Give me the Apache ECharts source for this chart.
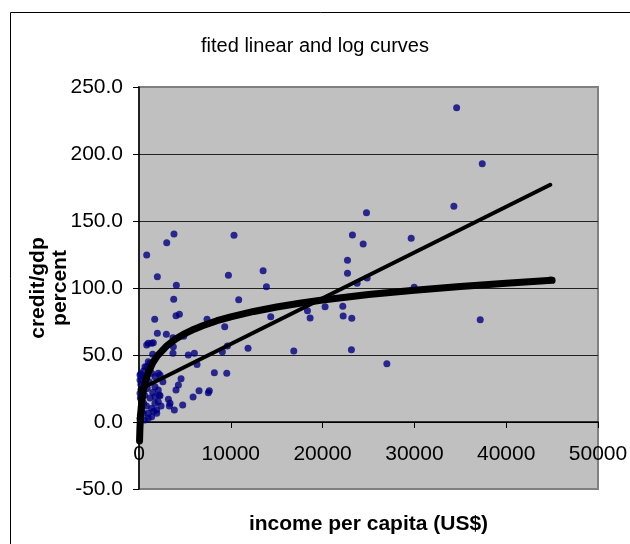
<!DOCTYPE html>
<html>
<head>
<meta charset="utf-8">
<script src="https://cdn.jsdelivr.net/npm/echarts@6/dist/echarts.min.js"></script>
<style>
html,body{margin:0;padding:0;background:#fff;}
#chart{width:630px;height:544px;}
</style>
</head>
<body>
<div id="chart"></div>
<script>
// Observed data: [income per capita (US$), credit/gdp percent]
var points = [
  [840,124.6],[3020,133.8],[3810,140.3],[10350,139.3],[2000,108.4],[4070,102],[9740,109.5],
  [13520,112.9],[13880,101],[3780,91.6],[10860,91.3],[4030,79.3],[4400,80.4],[1710,76.6],
  [7410,76.6],[9340,71.1],[14350,78.6],[18350,83.1],[18640,77.6],[20270,86],[2000,66.2],
  [2980,65.4],[3700,62.9],[4870,64],[1010,58.7],[1560,59.2],[1490,50.5],[3700,51.3],
  [5370,50],[6030,51.3],[6320,43],[9080,52.5],[9630,56.7],[11880,55],[16860,53],
  [8210,36.8],[9560,36.3],[4580,32.3],[4290,27.6],[4030,23.9],[6540,23.4],[7660,23.4],
  [7550,21.9],[5890,18.7],[4760,12.7],[3850,9],[3200,16.9],[3310,11.9],[2290,35],[2210,20.1],
  [34600,234.6],[37390,192.8],[34300,161],[24780,156.2],[23250,139.6],[24420,132.8],
  [29650,137.1],[22710,120.7],[22710,111],[23760,103.5],[24850,107.5],[29975,100.5],
  [22200,86.3],[22240,79.1],[23180,77.4],[23140,54],[27000,43.5],[37170,76.3],[44800,106],
  [1010,45],[1200,43.8],[840,41.3],[110,35],[290,33.8],[110,31.3],[470,30],[1380,36.3],
  [1740,33.8],[2100,36.3],[1740,26.3],[2100,23.9],[290,23.9],[110,21.4],[290,17.7],
  [3380,14],[1740,14],[2100,15.2],[1380,10.2],[1930,9],[1010,6.5],[290,11.4],[470,6.5],
  [110,2.8],[650,1.5],[1010,2.8],[1380,4],[1930,6.5],[840,57.5],[1380,58.7],[650,41.3],
  [190,36],[200,28],[400,26],[150,18],[500,14],[300,8],[150,5],[600,20],[800,12],[900,25],
  [1200,18],[1500,22],[1600,8],[2400,12],[2600,30],[1100,30],[700,33],[500,38],
  [1740,18.9],[2290,19.6],[3740,56.2]
];
// Fitted log trend line
var logCurve = [
  [60,-14.1],[100,-4.9],[150,2.5],[200,7.7],[300,15.0],[400,20.2],[500,24.3],[700,30.4],
  [1000,36.8],[1500,44.2],[2000,49.4],[3000,56.7],[4000,61.9],[5000,66.0],[6000,69.3],
  [7000,72.0],[8500,75.6],[10000,78.5],[12500,82.5],[15000,85.8],[17500,88.6],[20000,91.1],
  [25000,95.1],[30000,98.4],[35000,101.2],[40000,103.6],[45000,105.7]
];
// Fitted linear trend line
var linearLine = [[60,24.2],[44800,177]];
var yTicks = [-50, 0, 50, 100, 150, 200, 250];
var xTicks = [0, 10000, 20000, 30000, 40000, 50000];

var chart = echarts.init(document.getElementById('chart'), null, {renderer:'canvas'});
var font = 'Liberation Sans';
chart.setOption({
  animation: false,
  backgroundColor: '#fff',
  title: {
    text: 'fited linear and log curves',
    left: 'center',
    top: 31,
    textStyle: {fontFamily: font, fontSize: 20, fontWeight: 'normal', color: '#000'}
  },
  graphic: [{
    type: 'rect', silent: true, z: -1,
    shape: {x: 10.5, y: 12.5, width: 800, height: 800},
    style: {fill: 'none', stroke: '#000', lineWidth: 1}
  }],
  grid: {
    left: 139, right: 32, top: 87, bottom: 55,
    outerBoundsMode: 'none', containLabel: false,
    show: true, backgroundColor: '#c0c0c0', borderColor: '#808080', borderWidth: 2
  },
  xAxis: {
    type: 'value',
    min: xTicks[0], max: xTicks[xTicks.length - 1], interval: 10000,
    position: 'bottom', offset: -67,
    name: 'income per capita (US$)',
    nameLocation: 'middle', nameGap: 92, nameMoveOverlap: false,
    nameTextStyle: {fontFamily: font, fontSize: 21, fontWeight: 'bold', color: '#000'},
    axisLine: {show: true, onZero: false, lineStyle: {color: '#000', width: 1.5}},
    axisTick: {show: true, inside: false, length: 6, lineStyle: {color: '#000', width: 1}},
    axisLabel: {fontFamily: font, fontSize: 21, color: '#000', margin: 22,
      showMinLabel: true, showMaxLabel: true, hideOverlap: false,
      formatter: function (v) { return String(v); }},
    splitLine: {show: false}
  },
  yAxis: {
    type: 'value',
    min: yTicks[0], max: yTicks[yTicks.length - 1], interval: 50,
    name: 'credit/gdp\npercent',
    nameLocation: 'middle', nameGap: 68, nameRotate: 90, nameMoveOverlap: false,
    nameTextStyle: {fontFamily: font, fontSize: 21, fontWeight: 'bold', color: '#000', lineHeight: 22},
    axisLine: {show: true, onZero: false, lineStyle: {color: '#000', width: 1.5}},
    axisTick: {show: true, inside: false, length: 6, lineStyle: {color: '#000', width: 1}},
    axisLabel: {fontFamily: font, fontSize: 21, color: '#000', margin: 16,
      formatter: function (v) { return v.toFixed(1); }},
    splitLine: {show: true, lineStyle: {width: 1,
      color: ['#808080', '#000', '#222', '#222', '#222', '#222', '#808080']}}
  },
  series: [
    {
      type: 'scatter', data: points, symbol: 'circle', symbolSize: 7,
      itemStyle: {color: '#000080'}, z: 2
    },
    {
      type: 'line', data: logCurve, showSymbol: false, symbol: 'none',
      lineStyle: {color: '#000', width: 7, cap: 'round', join: 'round'}, z: 3
    },
    {
      type: 'line', data: linearLine, showSymbol: false, symbol: 'none',
      lineStyle: {color: '#000', width: 4, cap: 'round'}, z: 3
    }
  ]
});
</script>
</body>
</html>
